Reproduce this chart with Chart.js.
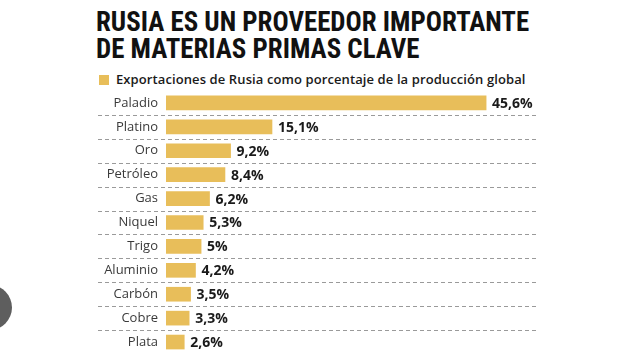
<!DOCTYPE html>
<html>
<head>
<meta charset="utf-8">
<script src="https://cdn.jsdelivr.net/npm/chart.js@4"></script>
<style>
    html, body { margin: 0; padding: 0; background: #fff; }
    body { width: 637px; height: 358px; position: relative; overflow: hidden; font-family: "Open Sans", sans-serif; }
    #title {
        position: absolute; left: 96px; top: 8px;
        font-family: "Liberation Sans Narrow", "Roboto Condensed", Roboto, sans-serif;
        font-weight: bold; font-size: 28px; line-height: 27px; color: #111;
        white-space: nowrap; transform: scaleX(0.96); transform-origin: left top;
    }
    #legend { position: absolute; left: 99px; top: 70px; font-size: 13px; font-weight: 600; color: #1a1a1a; white-space: nowrap; letter-spacing: 0.1px; }
    #legend span { display: inline-block; width: 10px; height: 10px; background: #e8be5a; margin-right: 7px; vertical-align: -1px; }
    #wrap { position: absolute; left: 0; top: 91px; width: 637px; height: 263px; }
    #knob { position: absolute; left: -33px; top: 285px; width: 45px; height: 45px; border-radius: 50%; background: #5e5e5e; }
</style>
</head>
<body>
<div id="title">RUSIA ES UN PROVEEDOR IMPORTANTE<br>DE MATERIAS PRIMAS CLAVE</div>
<div id="legend"><span></span>Exportaciones de Rusia como porcentaje de la producción global</div>
<div id="wrap"><canvas id="barChart"></canvas></div>
<div id="knob"></div>
<script>
const materials = ["Paladio", "Platino", "Oro", "Petróleo", "Gas", "Niquel", "Trigo", "Aluminio", "Carbón", "Cobre", "Plata"];
const shares = [45.6, 15.1, 9.2, 8.4, 6.2, 5.3, 5, 4.2, 3.5, 3.3, 2.6];
const shareLabels = ["45,6%", "15,1%", "9,2%", "8,4%", "6,2%", "5,3%", "5%", "4,2%", "3,5%", "3,3%", "2,6%"];

const barColor = "#e8be5a";

// dashed separators between the rows
const rowLines = {
    id: "rowLines",
    beforeDatasetsDraw(chart) {
        const ctx = chart.ctx;
        const yScale = chart.scales.y;
        ctx.save();
        ctx.strokeStyle = "#9a9a9a";
        ctx.lineWidth = 1;
        ctx.setLineDash([4, 3]);
        for (let i = 0; i < materials.length - 1; i++) {
            const y = Math.round((yScale.getPixelForValue(i) + yScale.getPixelForValue(i + 1)) / 2) + 0.5;
            ctx.beginPath();
            ctx.moveTo(98, y);
            ctx.lineTo(537, y);
            ctx.stroke();
        }
        ctx.restore();
    }
};

// value text at the end of each bar
const valueLabels = {
    id: "valueLabels",
    afterDatasetsDraw(chart) {
        const ctx = chart.ctx;
        const bars = chart.getDatasetMeta(0).data;
        ctx.save();
        ctx.font = "bold 14px 'Open Sans'";
        ctx.fillStyle = "#1a1a1a";
        ctx.textBaseline = "middle";
        bars.forEach((bar, i) => {
            ctx.fillText(shareLabels[i], bar.x + 6, bar.y + 1);
        });
        ctx.restore();
    }
};

new Chart(document.getElementById("barChart").getContext("2d"), {
    type: "bar",
    data: {
        labels: materials,
        datasets: [
            {
                label: "Exportaciones de Rusia como porcentaje de la producción global",
                data: shares,
                backgroundColor: barColor,
                borderWidth: 0,
                barThickness: 14,
            },
        ],
    },
    options: {
        indexAxis: "y",
        responsive: true,
        maintainAspectRatio: false,
        animation: false,
        layout: { padding: { left: 0, right: 120, top: 0, bottom: 0 } },
        plugins: {
            legend: { display: false },
            tooltip: { enabled: false },
        },
        scales: {
            x: {
                display: false,
                min: 0,
                max: 50,
            },
            y: {
                afterFit: (scale) => {
                    scale.width = 166;
                    scale.paddingTop = 0;
                    scale.paddingBottom = 0;
                },
                grid: { display: false, drawTicks: false },
                border: { display: false },
                ticks: {
                    padding: 8,
                    color: "#3a3a3a",
                    font: { family: "'Open Sans'", size: 13 },
                },
            },
        },
    },
    plugins: [rowLines, valueLabels],
});
</script>
</body>
</html>
